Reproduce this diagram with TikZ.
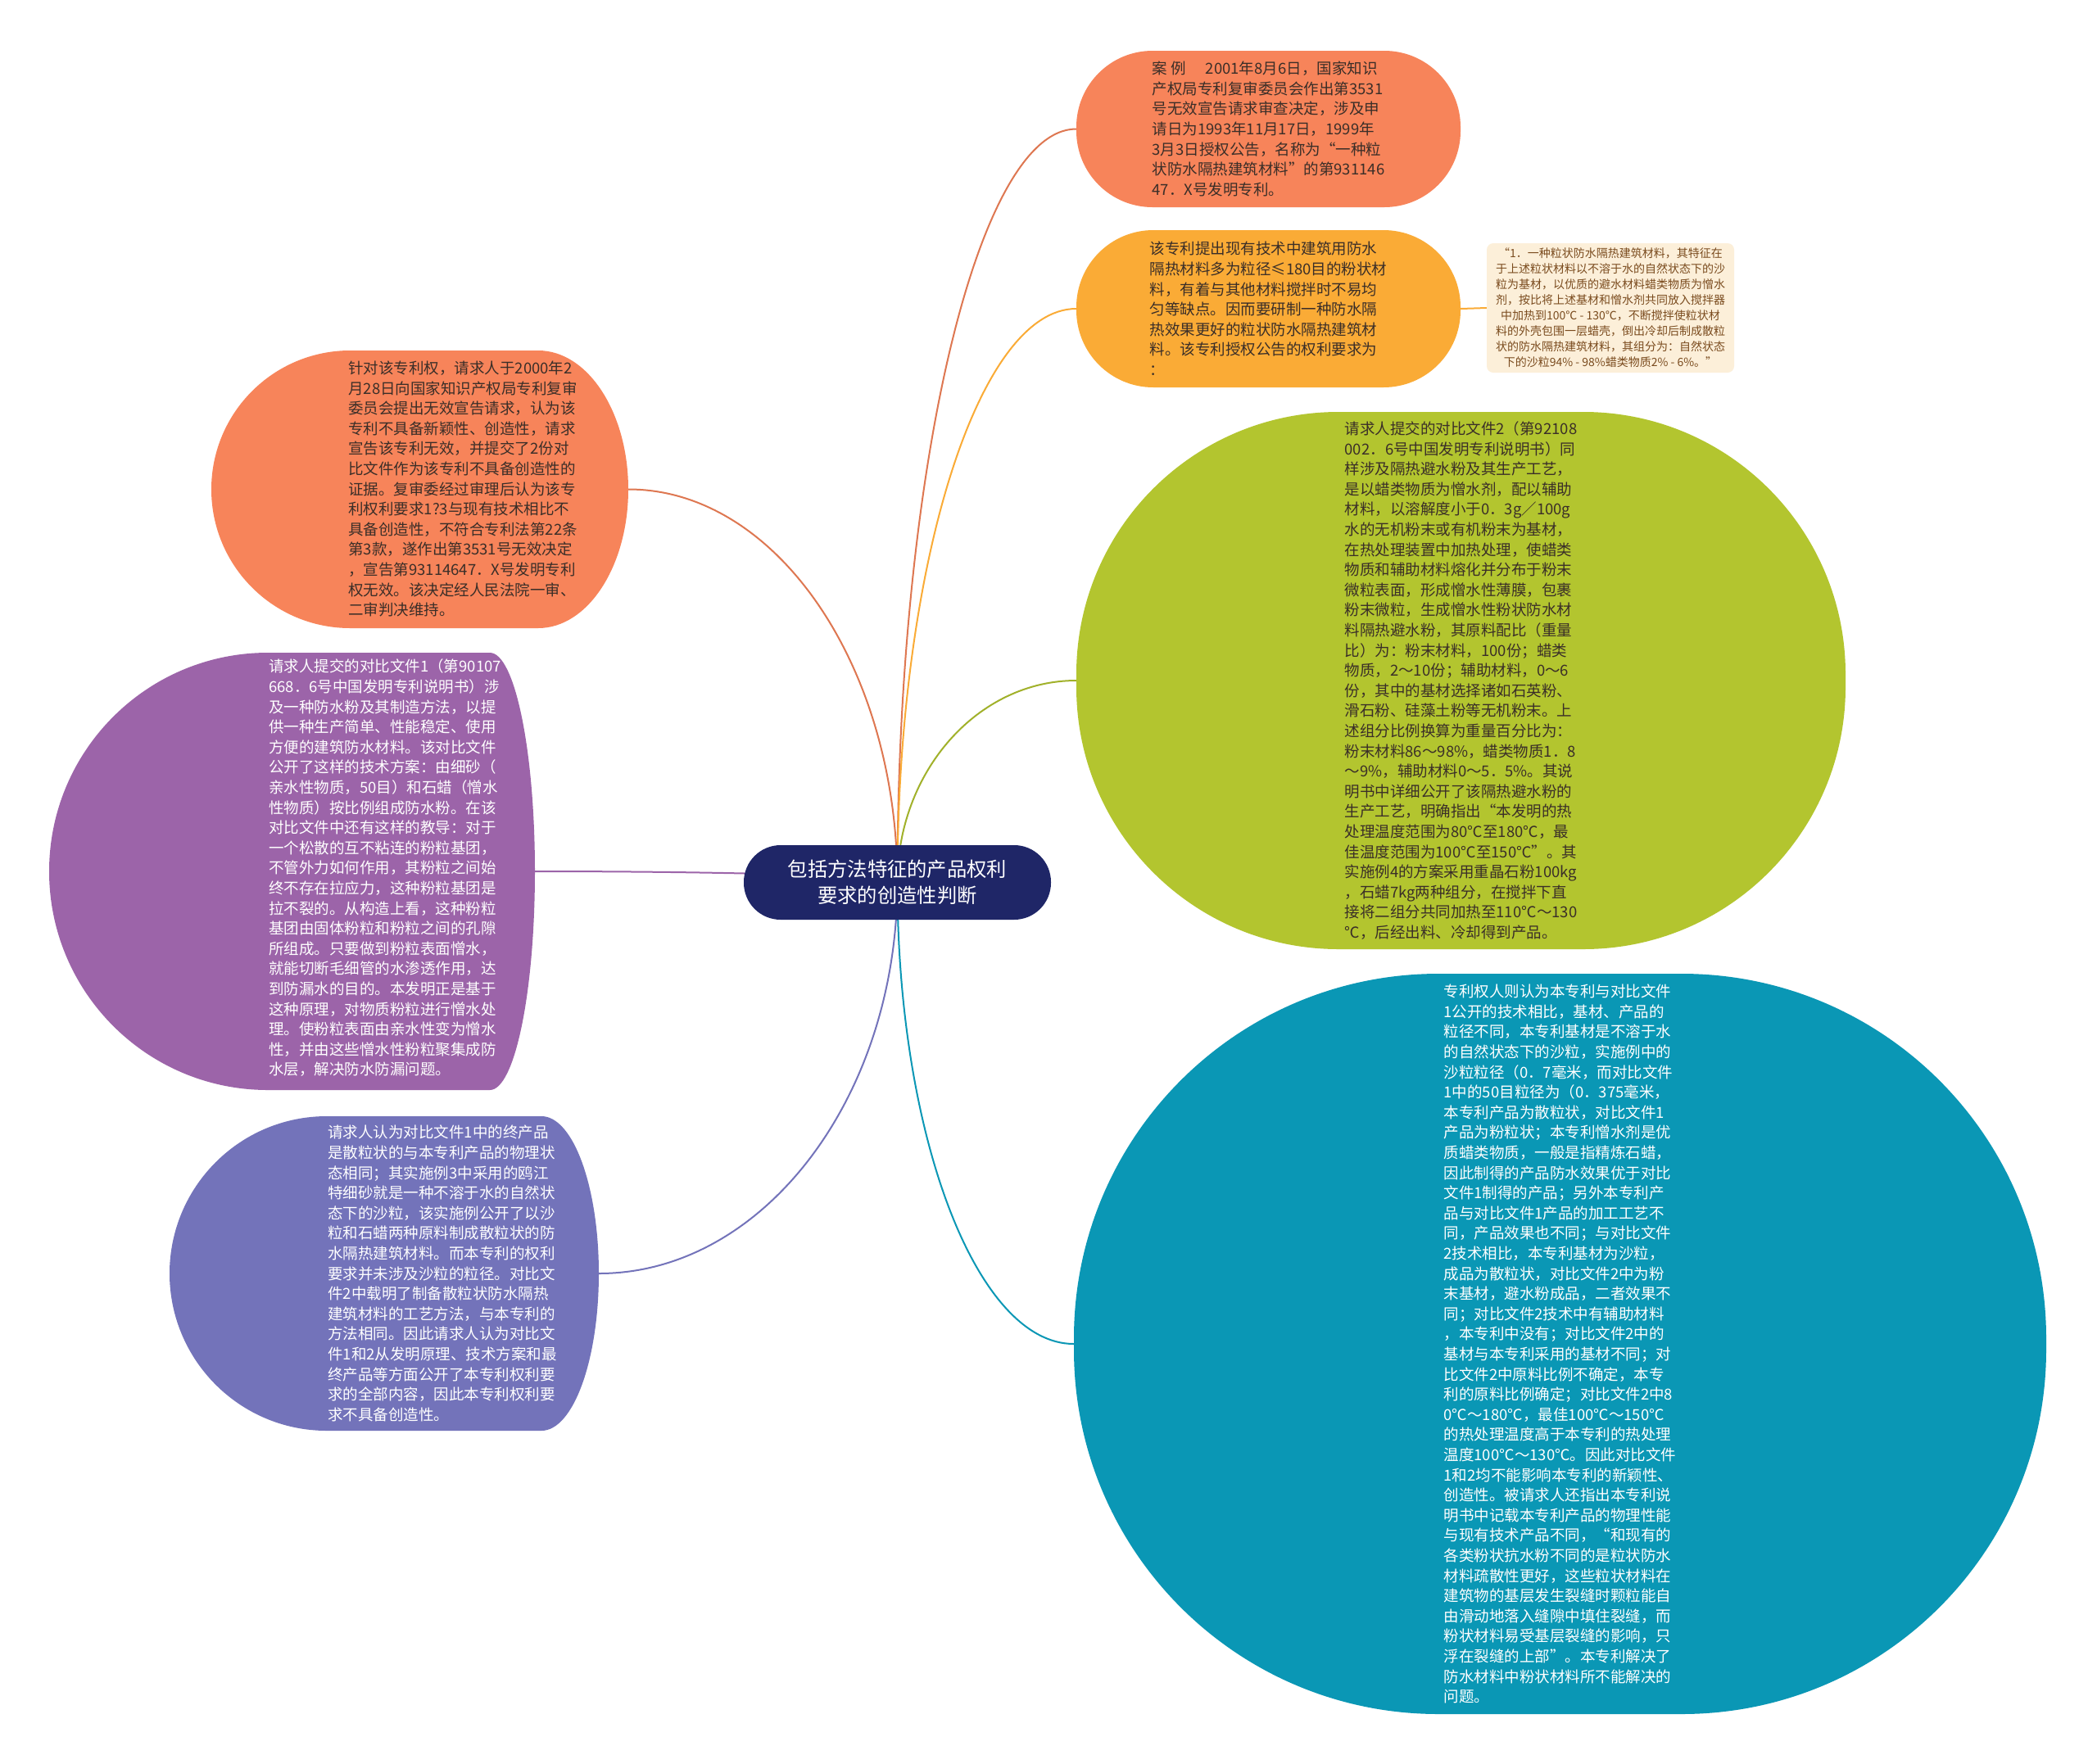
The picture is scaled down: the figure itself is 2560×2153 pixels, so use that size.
\documentclass[tikz,border=0pt]{standalone}
\usepackage{fontspec}
\setmainfont{Noto Sans CJK SC}
\usetikzlibrary{calc}

\definecolor{coral}{HTML}{F7845A}
\definecolor{amber}{HTML}{FAAB36}
\definecolor{cream}{HTML}{FCEFD9}
\definecolor{lime}{HTML}{B3C52F}
\definecolor{teal}{HTML}{0A97B5}
\definecolor{plum}{HTML}{9C64A9}
\definecolor{slate}{HTML}{7373BA}
\definecolor{navy}{HTML}{1F2667}
\definecolor{ink}{HTML}{3A2E28}
\definecolor{brownink}{HTML}{7A4B1E}

\pgfdeclarelayer{back}
\pgfsetlayers{back,main}

\tikzset{
  blob/.style={rectangle, inner sep=0pt, align=left,
    font=\fontsize{18.5}{24.6}\selectfont},
  txt/.style={inner sep=0pt, align=left, font=\fontsize{18.5}{24.6}\selectfont},
  link/.style={line width=2pt},
  % quarter-ellipse branch from the centre
  branch/.style={to path={.. controls ($(\tikztostart)!0.55!(\tikztostart |- \tikztotarget)$)
    and ($(\tikztotarget)!0.55!(\tikztostart |- \tikztotarget)$) .. (\tikztotarget)}},
}

% left-hand bubble: round outer end, flatter inner end
% #1 colour, #2 x1, #3 y1, #4 x2, #5 y2, #6 inner x radius
\newcommand{\sideblob}[6]{%
  \fill[#1] ({#2+(#5-#3)/2},#3) -- ({#4-#6},#3)
    arc[start angle=-90, end angle=90, x radius=#6, y radius={(#5-#3)/2}]
    -- ({#2+(#5-#3)/2},#5)
    arc[start angle=90, end angle=270, radius={(#5-#3)/2}] -- cycle;}

\begin{document}
\begin{tikzpicture}[x=1pt, y=-1pt]
  \useasboundingbox (0,0) rectangle (2560,2153);

  % centre
  \node[blob, fill=navy, text=white, align=center, minimum width=375pt, minimum height=91pt,
    rounded corners=45pt, font=\fontsize{24.3}{32}\selectfont] (rootN) at (1095.5,1077.5)
    {包括方法特征的产品权利\\要求的创造性判断};

  % right side
  \node[blob, fill=coral, text=ink, minimum width=469pt, minimum height=191pt,
    rounded corners=93pt] (caseN) at (1548.5,157.5)
    {案 例\hspace{1.3em}2001年8月6日，国家知识\\
     产权局专利复审委员会作出第3531\\
     号无效宣告请求审查决定，涉及申\\
     请日为1993年11月17日，1999年\\
     3月3日授权公告，名称为“一种粒\\
     状防水隔热建筑材料”的第931146\\
     47．X号发明专利。};

  \node[blob, fill=amber, text=ink, minimum width=469pt, minimum height=192pt,
    rounded corners=94pt] (bgN) at (1548.5,377)
    {该专利提出现有技术中建筑用防水\\
     隔热材料多为粒径≤180目的粉状材\\
     料，有着与其他材料搅拌时不易均\\
     匀等缺点。因而要研制一种防水隔\\
     热效果更好的粒状防水隔热建筑材\\
     料。该专利授权公告的权利要求为\\
     ：};

  \node[blob, fill=cream, text=brownink, align=center, minimum width=302pt, minimum height=158pt,
    rounded corners=8pt, font=\fontsize{14}{19}\selectfont] (claimN) at (1966,376)
    {“1．一种粒状防水隔热建筑材料，其特征在\\
     于上述粒状材料以不溶于水的自然状态下的沙\\
     粒为基材，以优质的避水材料蜡类物质为憎水\\
     剂，按比将上述基材和憎水剂共同放入搅拌器\\
     中加热到100℃ - 130℃，不断搅拌使粒状材\\
     料的外壳包围一层蜡壳，倒出冷却后制成散粒\\
     状的防水隔热建筑材料，其组分为：自然状态\\
     下的沙粒94\% - 98\%蜡类物质2\% - 6\%。”};

  \node[blob, fill=lime, text=ink, minimum width=939pt, minimum height=656pt,
    rounded corners=320pt] (doc2N) at (1783.5,831)
    {请求人提交的对比文件2（第92108\\
     002．6号中国发明专利说明书）同\\
     样涉及隔热避水粉及其生产工艺，\\
     是以蜡类物质为憎水剂，配以辅助\\
     材料，以溶解度小于0．3g／100g\\
     水的无机粉末或有机粉末为基材，\\
     在热处理装置中加热处理，使蜡类\\
     物质和辅助材料熔化并分布于粉末\\
     微粒表面，形成憎水性薄膜，包裹\\
     粉末微粒，生成憎水性粉状防水材\\
     料隔热避水粉，其原料配比（重量\\
     比）为：粉末材料，100份；蜡类\\
     物质，2～10份；辅助材料，0～6\\
     份，其中的基材选择诸如石英粉、\\
     滑石粉、硅藻土粉等无机粉末。上\\
     述组分比例换算为重量百分比为：\\
     粉末材料86～98\%，蜡类物质1．8\\
     ～9\%，辅助材料0～5．5\%。其说\\
     明书中详细公开了该隔热避水粉的\\
     生产工艺，明确指出“本发明的热\\
     处理温度范围为80℃至180℃，最\\
     佳温度范围为100℃至150℃”。其\\
     实施例4的方案采用重晶石粉100kg\\
     ，石蜡7kg两种组分，在搅拌下直\\
     接将二组分共同加热至110℃～130\\
     ℃，后经出料、冷却得到产品。};

  \node[blob, fill=teal, text=white, minimum width=1187pt, minimum height=904pt,
    rounded corners=445pt] (ownerN) at (1904.5,1641)
    {专利权人则认为本专利与对比文件\\
     1公开的技术相比，基材、产品的\\
     粒径不同，本专利基材是不溶于水\\
     的自然状态下的沙粒，实施例中的\\
     沙粒粒径（0．7毫米，而对比文件\\
     1中的50目粒径为（0．375毫米，\\
     本专利产品为散粒状，对比文件1\\
     产品为粉粒状；本专利憎水剂是优\\
     质蜡类物质，一般是指精炼石蜡，\\
     因此制得的产品防水效果优于对比\\
     文件1制得的产品；另外本专利产\\
     品与对比文件1产品的加工工艺不\\
     同，产品效果也不同；与对比文件\\
     2技术相比，本专利基材为沙粒，\\
     成品为散粒状，对比文件2中为粉\\
     末基材，避水粉成品，二者效果不\\
     同；对比文件2技术中有辅助材料\\
     ，本专利中没有；对比文件2中的\\
     基材与本专利采用的基材不同；对\\
     比文件2中原料比例不确定，本专\\
     利的原料比例确定；对比文件2中8\\
     0℃～180℃，最佳100℃～150℃\\
     的热处理温度高于本专利的热处理\\
     温度100℃～130℃。因此对比文件\\
     1和2均不能影响本专利的新颖性、\\
     创造性。被请求人还指出本专利说\\
     明书中记载本专利产品的物理性能\\
     与现有技术产品不同，“和现有的\\
     各类粉状抗水粉不同的是粒状防水\\
     材料疏散性更好，这些粒状材料在\\
     建筑物的基层发生裂缝时颗粒能自\\
     由滑动地落入缝隙中填住裂缝，而\\
     粉状材料易受基层裂缝的影响，只\\
     浮在裂缝的上部”。本专利解决了\\
     防水材料中粉状材料所不能解决的\\
     问题。};

  % left side
  \sideblob{coral}{258}{428}{767}{767}{110}
  \node[blob, minimum width=509pt, minimum height=339pt] (requestN) at (512.5,597.5) {};
  \node[txt, text=ink] (requestT) at (565,597)
    {针对该专利权，请求人于2000年2\\
     月28日向国家知识产权局专利复审\\
     委员会提出无效宣告请求，认为该\\
     专利不具备新颖性、创造性，请求\\
     宣告该专利无效，并提交了2份对\\
     比文件作为该专利不具备创造性的\\
     证据。复审委经过审理后认为该专\\
     利权利要求1?3与现有技术相比不\\
     具备创造性，不符合专利法第22条\\
     第3款，遂作出第3531号无效决定\\
     ，宣告第93114647．X号发明专利\\
     权无效。该决定经人民法院一审、\\
     二审判决维持。};

  \sideblob{plum}{60}{797}{653}{1331}{55}
  \node[blob, minimum width=593pt, minimum height=534pt] (doc1N) at (356.5,1064) {};
  \node[txt, text=white] (doc1T) at (470,1060)
    {请求人提交的对比文件1（第90107\\
     668．6号中国发明专利说明书）涉\\
     及一种防水粉及其制造方法，以提\\
     供一种生产简单、性能稳定、使用\\
     方便的建筑防水材料。该对比文件\\
     公开了这样的技术方案：由细砂（\\
     亲水性物质，50目）和石蜡（憎水\\
     性物质）按比例组成防水粉。在该\\
     对比文件中还有这样的教导：对于\\
     一个松散的互不粘连的粉粒基团，\\
     不管外力如何作用，其粉粒之间始\\
     终不存在拉应力，这种粉粒基团是\\
     拉不裂的。从构造上看，这种粉粒\\
     基团由固体粉粒和粉粒之间的孔隙\\
     所组成。只要做到粉粒表面憎水，\\
     就能切断毛细管的水渗透作用，达\\
     到防漏水的目的。本发明正是基于\\
     这种原理，对物质粉粒进行憎水处\\
     理。使粉粒表面由亲水性变为憎水\\
     性，并由这些憎水性粉粒聚集成防\\
     水层，解决防水防漏问题。};

  \sideblob{slate}{207}{1363}{731}{1747}{70}
  \node[blob, minimum width=524pt, minimum height=384pt] (argN) at (469,1555) {};
  \node[txt, text=white] (argT) at (540,1555)
    {请求人认为对比文件1中的终产品\\
     是散粒状的与本专利产品的物理状\\
     态相同；其实施例3中采用的鸥江\\
     特细砂就是一种不溶于水的自然状\\
     态下的沙粒，该实施例公开了以沙\\
     粒和石蜡两种原料制成散粒状的防\\
     水隔热建筑材料。而本专利的权利\\
     要求并未涉及沙粒的粒径。对比文\\
     件2中载明了制备散粒状防水隔热\\
     建筑材料的工艺方法，与本专利的\\
     方法相同。因此请求人认为对比文\\
     件1和2从发明原理、技术方案和最\\
     终产品等方面公开了本专利权利要\\
     求的全部内容，因此本专利权利要\\
     求不具备创造性。};

  % connectors, behind the boxes
  \begin{pgfonlayer}{back}
    \fill[white] (0,0) rectangle (2560,2153);
    \draw[link, branch, coral!90!black] (rootN.center) to (caseN.west);
    \draw[link, branch, amber] (rootN.center) to (bgN.west);
    \draw[link, amber] (bgN.east) -- (claimN.west);
    \draw[link, branch, lime!90!black] (rootN.center) to (doc2N.west);
    \draw[link, branch, teal] (rootN.center) to (ownerN.west);
    \draw[link, branch, coral!90!black] (rootN.center) to (requestN.east);
    \draw[link, branch, plum] (rootN.center) to (doc1N.east);
    \draw[link, branch, slate] (rootN.center) to (argN.east);
  \end{pgfonlayer}
\end{tikzpicture}
\end{document}
